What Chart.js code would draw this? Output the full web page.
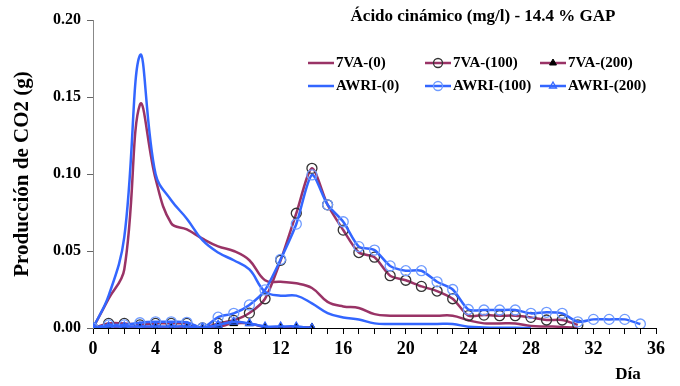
<!DOCTYPE html>
<html lang="es">
<head>
<meta charset="UTF-8">
<title>Ácido cinámico - 14.4 % GAP</title>
<script src="https://cdn.jsdelivr.net/npm/chart.js"></script>
<style>
  html, body { margin: 0; padding: 0; background: #fff; }
  #wrap { width: 680px; height: 386px; }
</style>
</head>
<body>
<div id="wrap"><canvas id="myChart" width="680" height="386"></canvas></div>
<script>
// días de fermentación
const dias = [0,1,2,3,4,5,6,7,8,9,10,11,12,13,14,15,16,17,18,19,20,21,22,23,24,25,26,27,28,29,30,31,32,33,34,35];

// producción de CO2 (g) por día
const va0 = [0, 0.019, 0.038, 0.145, 0.097, 0.068, 0.064, 0.058, 0.053, 0.050, 0.044, 0.031, 0.030, 0.029, 0.026, 0.017, 0.014, 0.013, 0.009, 0.008, 0.008, 0.008, 0.008, 0.008, 0.005, 0.003, 0.003, 0.003, 0.0013, 0.001, 0.0007, 0];
const va100 = [0, 0.003, 0.003, 0.002, 0.003, 0.003, 0.003, 0, 0.003, 0.005, 0.0097, 0.019, 0.044, 0.0745, 0.1037, 0.080, 0.0636, 0.049, 0.046, 0.034, 0.031, 0.027, 0.024, 0.019, 0.008, 0.0084, 0.008, 0.008, 0.0069, 0.0052, 0.0052, 0.002];
const va200 = [0, 0, 0, 0, 0, 0, 0, 0, 0.0008, 0.003, 0.003, 0.0005, 0.0005, 0.0005, 0.0003];
const awri0 = [0, 0.021, 0.059, 0.177, 0.100, 0.083, 0.071, 0.057, 0.049, 0.044, 0.038, 0.0236, 0.021, 0.021, 0.016, 0.0097, 0.0068, 0.0055, 0.003, 0.0026, 0.0026, 0.0026, 0.0026, 0.0026, 0.0008, 0.0004, 0.0002, 0.0001, 0];
const awri100 = [0, 0.002, 0.002, 0.0034, 0.004, 0.004, 0.0037, 0, 0.007, 0.0095, 0.015, 0.0247, 0.0446, 0.0675, 0.0994, 0.080, 0.069, 0.0528, 0.0506, 0.0403, 0.0372, 0.0372, 0.030, 0.025, 0.012, 0.0117, 0.0117, 0.0117, 0.0095, 0.0102, 0.0095, 0.004, 0.0056, 0.0056, 0.0056, 0.0026];
const awri200 = [0, 0.001, 0.001, 0.001, 0.001, 0.001, 0.001, 0, 0.002, 0.004, 0.003, 0.001, 0.001, 0.001, 0];

const etiquetas = ['7VA-(0)', '7VA-(100)', '7VA-(200)', 'AWRI-(0)', 'AWRI-(100)', 'AWRI-(200)'];
const titulo = 'Ácido cinámico (mg/l) - 14.4 % GAP';
const tituloY = 'Producción de CO2 (g)';
const tituloX = 'Día';

const granate = '#993366';
const azul = '#3366ff';
const fuente = "'Liberation Serif', 'Times New Roman', serif";

function puntos(vals) {
    return vals.map((v, i) => ({ x: dias[i], y: v }));
}

const datasets = [
    { label: etiquetas[0], data: puntos(va0), borderColor: granate, borderWidth: 2.5, pointRadius: 0, tension: 0.4, order: 5 },
    { label: etiquetas[1], data: puntos(va100), borderColor: granate, borderWidth: 2.5, tension: 0.25, order: 4,
      pointStyle: 'circle', pointRadius: 5, pointBorderColor: '#333', pointBackgroundColor: 'rgba(0,0,0,0)', pointBorderWidth: 1.3 },
    { label: etiquetas[2], data: puntos(va200), borderColor: granate, borderWidth: 2.5, tension: 0.3, order: 3,
      pointStyle: 'triangle', pointRadius: 4.5, pointBorderColor: '#000', pointBackgroundColor: '#000', pointBorderWidth: 1 },
    { label: etiquetas[3], data: puntos(awri0), borderColor: azul, borderWidth: 2.5, pointRadius: 0, tension: 0.4, order: 2 },
    { label: etiquetas[4], data: puntos(awri100), borderColor: azul, borderWidth: 2.5, tension: 0.25, order: 1,
      pointStyle: 'circle', pointRadius: 5, pointBorderColor: '#6f9bff', pointBackgroundColor: 'rgba(0,0,0,0)', pointBorderWidth: 1.3 },
    { label: etiquetas[5], data: puntos(awri200), borderColor: azul, borderWidth: 2.5, tension: 0.3, order: 0,
      pointStyle: 'triangle', pointRadius: 4.5, pointBorderColor: azul, pointBackgroundColor: 'rgba(0,0,0,0)', pointBorderWidth: 1.3 }
];

// título, leyenda y "Día" dibujados a mano para imitar la figura original
const decoracion = {
    id: 'decoracion',
    afterDraw(chart) {
        const ctx = chart.ctx;
        ctx.save();
        ctx.fillStyle = '#000';
        ctx.textBaseline = 'middle';
        ctx.font = 'bold 17px ' + fuente;
        ctx.textAlign = 'center';
        ctx.fillText(titulo, 483, 17);

        ctx.font = 'bold 17px ' + fuente;
        ctx.fillText(tituloX, 628, 375);

        const colX = [308, 425, 540];
        const filaY = [63, 86];
        ctx.font = 'bold 15px ' + fuente;
        ctx.textAlign = 'left';
        chart.data.datasets.forEach((ds, i) => {
            const x = colX[i % 3], y = filaY[Math.floor(i / 3)];
            ctx.strokeStyle = ds.borderColor;
            ctx.lineWidth = 2.5;
            ctx.beginPath();
            ctx.moveTo(x, y);
            ctx.lineTo(x + 26, y);
            ctx.stroke();
            if (ds.pointRadius > 0) {
                ctx.strokeStyle = ds.pointBorderColor;
                ctx.fillStyle = ds.pointBackgroundColor;
                ctx.lineWidth = ds.pointBorderWidth;
                Chart.helpers.drawPoint(ctx, { pointStyle: ds.pointStyle, radius: ds.pointRadius - 0.5, borderWidth: ds.pointBorderWidth, rotation: 0 }, x + 13, y);
            }
            ctx.fillStyle = '#000';
            ctx.fillText(ds.label, x + 28, y);
        });
        ctx.restore();
    }
};

const config = {
    type: 'line',
    data: { datasets: datasets },
    options: {
        responsive: false,
        animation: false,
        layout: { padding: { top: 20, right: 24, left: 0, bottom: 0 } },
        plugins: { legend: { display: false }, tooltip: { enabled: false } },
        scales: {
            x: {
                type: 'linear', min: 0, max: 36,
                afterFit(scale) { scale.height = 58; },
                grid: { drawOnChartArea: false, drawTicks: true, tickLength: 6, color: '#000' },
                border: { display: true, color: '#000', width: 1 },
                ticks: {
                    stepSize: 1, autoSkip: false, maxRotation: 0, padding: 5,
                    color: '#000', font: { family: fuente, size: 18, weight: 'bold' },
                    callback: v => (v % 4 === 0 ? v : '')
                }
            },
            y: {
                min: 0, max: 0.2,
                afterFit(scale) { scale.width = 93; },
                grid: { drawOnChartArea: false, drawTicks: true, tickLength: 6, color: '#666' },
                border: { display: true, color: '#888', width: 1 },
                ticks: {
                    stepSize: 0.05, padding: 6, color: '#000',
                    font: { family: fuente, size: 16, weight: 'bold' },
                    callback: v => v.toFixed(2)
                },
                title: {
                    display: true, text: tituloY, color: '#000',
                    font: { family: fuente, size: 21, weight: 'bold' },
                    padding: { top: 10, bottom: 0 }
                }
            }
        }
    },
    plugins: [decoracion]
};

const myChart = new Chart(document.querySelector('#myChart'), config);
</script>
</body>
</html>
